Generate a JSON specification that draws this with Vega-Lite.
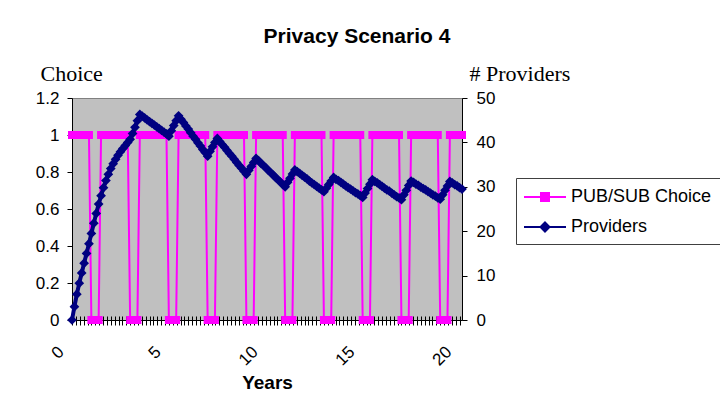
{
  "$schema": "https://vega.github.io/schema/vega-lite/v6.json",
  "width": 390,
  "height": 222,
  "autosize": "none",
  "padding": {"left": 72, "top": 98, "right": 258, "bottom": 93},
  "background": "#ffffff",
  "config": {
    "view": {"fill": "#c0c0c0", "stroke": "#808080", "strokeWidth": 1},
    "axis": {
      "labelFont": "Liberation Sans", "labelFontSize": 17, "labelColor": "#000000",
      "tickColor": "#000000", "domainColor": "#000000", "tickSize": 5,
      "titleColor": "#000000", "grid": false
    }
  },
  "title": {
    "text": "Privacy Scenario 4",
    "font": "Liberation Sans", "fontSize": 21, "fontWeight": "bold", "color": "#000000",
    "anchor": "middle", "dx": 90, "offset": 15
  },
  "data": {"values": [
    {"t":0,"c":1,"p":0},{"t":0.125,"c":1,"p":3},{"t":0.25,"c":1,"p":5.8},{"t":0.375,"c":1,"p":8.3},
    {"t":0.5,"c":1,"p":10.6},{"t":0.625,"c":1,"p":12.8},{"t":0.75,"c":1,"p":15},{"t":0.875,"c":1,"p":17.2},
    {"t":1,"c":0,"p":19.5},{"t":1.125,"c":0,"p":21.8},{"t":1.25,"c":0,"p":24},{"t":1.375,"c":0,"p":26.1},
    {"t":1.5,"c":1,"p":28},{"t":1.625,"c":1,"p":29.8},{"t":1.75,"c":1,"p":31.4},{"t":1.875,"c":1,"p":32.8},
    {"t":2,"c":1,"p":34.1},{"t":2.125,"c":1,"p":35.2},{"t":2.25,"c":1,"p":36.2},{"t":2.375,"c":1,"p":37.1},
    {"t":2.5,"c":1,"p":37.9},{"t":2.625,"c":1,"p":38.6},{"t":2.75,"c":1,"p":39.3},{"t":2.875,"c":1,"p":40},
    {"t":3,"c":0,"p":40.7},{"t":3.125,"c":0,"p":42},{"t":3.25,"c":0,"p":43.4},{"t":3.375,"c":0,"p":44.9},
    {"t":3.5,"c":1,"p":46.3},{"t":3.625,"c":1,"p":45.9},{"t":3.75,"c":1,"p":45.5},{"t":3.875,"c":1,"p":45.1},
    {"t":4,"c":1,"p":44.7},{"t":4.125,"c":1,"p":44.3},{"t":4.25,"c":1,"p":43.9},{"t":4.375,"c":1,"p":43.5},
    {"t":4.5,"c":1,"p":43.1},{"t":4.625,"c":1,"p":42.7},{"t":4.75,"c":1,"p":42.3},{"t":4.875,"c":1,"p":41.9},
    {"t":5,"c":0,"p":41.4},{"t":5.125,"c":0,"p":42.6},{"t":5.25,"c":0,"p":43.8},{"t":5.375,"c":0,"p":44.9},
    {"t":5.5,"c":1,"p":46},{"t":5.625,"c":1,"p":45.2},{"t":5.75,"c":1,"p":44.5},{"t":5.875,"c":1,"p":43.7},
    {"t":6,"c":1,"p":43},{"t":6.125,"c":1,"p":42.2},{"t":6.25,"c":1,"p":41.4},{"t":6.375,"c":1,"p":40.7},
    {"t":6.5,"c":1,"p":39.9},{"t":6.625,"c":1,"p":39.2},{"t":6.75,"c":1,"p":38.4},{"t":6.875,"c":1,"p":37.7},
    {"t":7,"c":0,"p":36.9},{"t":7.125,"c":0,"p":38},{"t":7.25,"c":0,"p":39},{"t":7.375,"c":0,"p":40},
    {"t":7.5,"c":1,"p":40.9},{"t":7.625,"c":1,"p":40.2},{"t":7.75,"c":1,"p":39.5},{"t":7.875,"c":1,"p":38.9},
    {"t":8,"c":1,"p":38.2},{"t":8.125,"c":1,"p":37.5},{"t":8.25,"c":1,"p":36.9},{"t":8.375,"c":1,"p":36.2},
    {"t":8.5,"c":1,"p":35.5},{"t":8.625,"c":1,"p":34.8},{"t":8.75,"c":1,"p":34.2},{"t":8.875,"c":1,"p":33.5},
    {"t":9,"c":0,"p":32.8},{"t":9.125,"c":0,"p":33.7},{"t":9.25,"c":0,"p":34.6},{"t":9.375,"c":0,"p":35.5},
    {"t":9.5,"c":1,"p":36.4},{"t":9.625,"c":1,"p":35.9},{"t":9.75,"c":1,"p":35.3},{"t":9.875,"c":1,"p":34.8},
    {"t":10,"c":1,"p":34.3},{"t":10.125,"c":1,"p":33.7},{"t":10.25,"c":1,"p":33.2},{"t":10.375,"c":1,"p":32.7},
    {"t":10.5,"c":1,"p":32.1},{"t":10.625,"c":1,"p":31.6},{"t":10.75,"c":1,"p":31.1},{"t":10.875,"c":1,"p":30.5},
    {"t":11,"c":0,"p":30},{"t":11.125,"c":0,"p":31},{"t":11.25,"c":0,"p":31.9},{"t":11.375,"c":0,"p":32.9},
    {"t":11.5,"c":1,"p":33.8},{"t":11.625,"c":1,"p":33.4},{"t":11.75,"c":1,"p":33},{"t":11.875,"c":1,"p":32.6},
    {"t":12,"c":1,"p":32.2},{"t":12.125,"c":1,"p":31.8},{"t":12.25,"c":1,"p":31.3},{"t":12.375,"c":1,"p":30.9},
    {"t":12.5,"c":1,"p":30.5},{"t":12.625,"c":1,"p":30.1},{"t":12.75,"c":1,"p":29.7},{"t":12.875,"c":1,"p":29.3},
    {"t":13,"c":0,"p":28.9},{"t":13.125,"c":0,"p":29.7},{"t":13.25,"c":0,"p":30.5},{"t":13.375,"c":0,"p":31.3},
    {"t":13.5,"c":1,"p":32.1},{"t":13.625,"c":1,"p":31.7},{"t":13.75,"c":1,"p":31.4},{"t":13.875,"c":1,"p":31},
    {"t":14,"c":1,"p":30.6},{"t":14.125,"c":1,"p":30.2},{"t":14.25,"c":1,"p":29.8},{"t":14.375,"c":1,"p":29.5},
    {"t":14.5,"c":1,"p":29.1},{"t":14.625,"c":1,"p":28.7},{"t":14.75,"c":1,"p":28.4},{"t":14.875,"c":1,"p":28},
    {"t":15,"c":0,"p":27.6},{"t":15.125,"c":0,"p":28.6},{"t":15.25,"c":0,"p":29.6},{"t":15.375,"c":0,"p":30.6},
    {"t":15.5,"c":1,"p":31.6},{"t":15.625,"c":1,"p":31.2},{"t":15.75,"c":1,"p":30.9},{"t":15.875,"c":1,"p":30.5},
    {"t":16,"c":1,"p":30.1},{"t":16.125,"c":1,"p":29.7},{"t":16.25,"c":1,"p":29.3},{"t":16.375,"c":1,"p":29},
    {"t":16.5,"c":1,"p":28.6},{"t":16.625,"c":1,"p":28.2},{"t":16.75,"c":1,"p":27.8},{"t":16.875,"c":1,"p":27.5},
    {"t":17,"c":0,"p":27.1},{"t":17.125,"c":0,"p":28.2},{"t":17.25,"c":0,"p":29.2},{"t":17.375,"c":0,"p":30.3},
    {"t":17.5,"c":1,"p":31.3},{"t":17.625,"c":1,"p":31},{"t":17.75,"c":1,"p":30.6},{"t":17.875,"c":1,"p":30.3},
    {"t":18,"c":1,"p":29.9},{"t":18.125,"c":1,"p":29.6},{"t":18.25,"c":1,"p":29.3},{"t":18.375,"c":1,"p":28.9},
    {"t":18.5,"c":1,"p":28.6},{"t":18.625,"c":1,"p":28.2},{"t":18.75,"c":1,"p":27.9},{"t":18.875,"c":1,"p":27.5},
    {"t":19,"c":0,"p":27.2},{"t":19.125,"c":0,"p":28.2},{"t":19.25,"c":0,"p":29.2},{"t":19.375,"c":0,"p":30.2},
    {"t":19.5,"c":1,"p":31.2},{"t":19.625,"c":1,"p":30.9},{"t":19.75,"c":1,"p":30.5},{"t":19.875,"c":1,"p":30.2},
    {"t":20,"c":1,"p":29.8},{"t":20.125,"c":1,"p":29.5}
  ]},
  "encoding": {
    "x": {
      "field": "t", "type": "quantitative",
      "scale": {"domain": [0, 20.125], "nice": false, "zero": false},
      "axis": {
        "orient": "bottom", "offset": -4, "domain": false, "tickSize": 9, "tickCount": 100,
        "labelExpr": "datum.value % 5 === 0 ? format(datum.value, 'd') : ''",
        "labelAngle": -45, "labelAlign": "right", "labelBaseline": "middle",
        "labelOffset": -11, "labelPadding": 24, "labelOverlap": false, "labelFlush": false, "labelBound": false,
        "title": "Years", "titleFont": "Liberation Sans", "titleFontSize": 19, "titleFontWeight": "bold",
        "titleBaseline": "alphabetic", "titleAlign": "center", "titleX": 195, "titleY": 72
      }
    }
  },
  "layer": [
    {
      "encoding": {
        "y": {
          "field": "c", "type": "quantitative",
          "scale": {"domain": [0, 1.2], "nice": false},
          "axis": {
            "orient": "left", "values": [0, 0.2, 0.4, 0.6, 0.8, 1, 1.2], "format": ".1~f",
            "labelPadding": 8,
            "grid": true, "gridColor": "#000000",
            "gridOpacity": {"condition": {"test": "datum.value === 0", "value": 1}, "value": 0},
            "title": "Choice", "titleFont": "Liberation Serif", "titleFontSize": 22, "titleFontWeight": "normal",
            "titleAngle": 0, "titleAlign": "left", "titleBaseline": "alphabetic", "titleX": -32, "titleY": -18
          }
        },
        "color": {
          "datum": "PUB/SUB Choice",
          "scale": {"domain": ["PUB/SUB Choice", "Providers"], "range": ["#ff00ff", "#000080"]},
          "legend": {
            "orient": "none", "legendX": 444, "legendY": 80, "title": null,
            "padding": 8, "strokeColor": "#404040", "fillColor": "#ffffff",
            "symbolSize": 400, "symbolOffset": 10, "symbolStrokeWidth": 2,
            "labelOffset": 15, "rowPadding": 10, "labelLimit": 400,
            "labelFont": "Liberation Sans", "labelFontSize": 18, "labelColor": "#000000",
            "encode": {
              "symbols": {
                "update": {
                  "shape": {"signal": "datum.value === 'Providers' ? 'M-2.1,0H2.1M0,-0.45L0.45,0L0,0.45L-0.45,0Z' : 'M-2.1,0H2.1M-0.4,-0.4H0.4V0.4H-0.4Z'"},
                  "fill": {"scale": "color", "field": "value"},
                  "stroke": {"scale": "color", "field": "value"},
                  "strokeWidth": {"value": 2},
                  "opacity": {"value": 1}
                }
              }
            }
          }
        }
      },
      "layer": [
        {"mark": {"type": "line", "strokeWidth": 2}},
        {"mark": {"type": "point", "shape": "square", "filled": true, "size": 64, "opacity": 1}}
      ]
    },
    {
      "encoding": {
        "y": {
          "field": "p", "type": "quantitative",
          "scale": {"domain": [0, 50], "nice": false},
          "axis": {
            "orient": "right", "values": [0, 10, 20, 30, 40, 50],
            "labelPadding": 9,
            "title": "# Providers", "titleFont": "Liberation Serif", "titleFontSize": 22, "titleFontWeight": "normal",
            "titleAngle": 0, "titleAlign": "left", "titleBaseline": "alphabetic", "titleX": 7, "titleY": -18
          }
        },
        "color": {"datum": "Providers"}
      },
      "layer": [
        {"mark": {"type": "line", "strokeWidth": 4}},
        {"mark": {"type": "point", "shape": "diamond", "filled": true, "size": 95, "opacity": 1}}
      ]
    }
  ],
  "resolve": {"scale": {"y": "independent"}}
}
